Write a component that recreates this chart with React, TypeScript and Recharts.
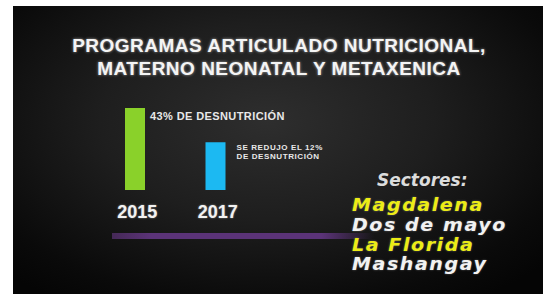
import { BarChart, Bar, XAxis, YAxis, Cell, LabelList } from "recharts";

const years = ["2015", "2017"];
const desnutricion = [43, 25];
const barNotes = [["43% DE DESNUTRICIÓN"], ["SE REDUJO EL 12%", "DE DESNUTRICIÓN"]];
const titleLines = ["PROGRAMAS ARTICULADO NUTRICIONAL,", "MATERNO NEONATAL Y METAXENICA"];
const sectoresTitle = "Sectores:";
const sectores = ["Magdalena", "Dos de mayo", "La Florida", "Mashangay"];

const barColors = ["#8ad12a", "#1cb9f2"];

const data = years.map((year, i) => ({ year, value: desnutricion[i], note: barNotes[i] }));

const noteStyle = [
  { dx: 5, size: 11, spacing: 0.4, first: 12, step: 0 },
  { dx: 11, size: 8, spacing: 0.6, first: 8, step: 9 }
];

const BarNote = (props: any) => {
  const { x, y, width, index } = props;
  const s = noteStyle[index];
  const lines: string[] = data[index].note;
  return (
    <text
      x={x + width + s.dx}
      y={y + s.first}
      fill="#e8e8e8"
      fontSize={s.size}
      fontWeight="bold"
      fontFamily="'Liberation Sans', Arial, sans-serif"
      letterSpacing={s.spacing}
    >
      {lines.map((line, i) => (
        <tspan key={i} x={x + width + s.dx} dy={i === 0 ? 0 : s.step}>
          {line}
        </tspan>
      ))}
    </text>
  );
};

const YearTick = (props: any) => {
  const { x, y, payload } = props;
  return (
    <text
      x={x + 2}
      y={y}
      dy={20}
      textAnchor="middle"
      fill="#f2f2f2"
      fontSize={18}
      fontWeight="bold"
      fontFamily="'Liberation Sans', Arial, sans-serif"
      style={{ textShadow: "0 0 2px rgba(255,255,255,0.5)" }}
    >
      {payload.value}
    </text>
  );
};

export default function App() {
  return (
    <div style={{ position: "absolute", left: 0, top: 0, width: 543, height: 294, background: "#fff", overflow: "hidden" }}>
      <div
        style={{
          position: "absolute",
          left: 13,
          top: 6,
          width: 530,
          height: 288,
          background: "radial-gradient(ellipse 70% 75% at 48% 40%, #2e2e2e 0%, #1e1e1e 45%, #0a0a0a 85%, #050505 100%)"
        }}
      />
      <div
        style={{
          position: "absolute",
          left: 112,
          top: 233,
          width: 262,
          height: 6,
          background: "linear-gradient(90deg, rgba(90,50,115,0.7) 0%, #5b3378 15%, #5b3378 80%, rgba(90,50,115,0) 100%)"
        }}
      />
      <div
        style={{
          position: "absolute",
          left: 0,
          top: 34,
          width: 558,
          textAlign: "center",
          color: "#f4f4f4",
          fontFamily: "'Liberation Sans', Arial, sans-serif",
          fontWeight: "bold",
          fontSize: 19,
          lineHeight: "23px",
          letterSpacing: 0.5,
          textShadow: "0 0 3px rgba(255,255,255,0.6)"
        }}
      >
        {titleLines.map((t) => (
          <div key={t}>{t}</div>
        ))}
      </div>
      <div style={{ position: "absolute", left: 0, top: 0 }}>
        <BarChart width={543} height={294} data={data} margin={{ top: 108, left: 95, right: 287, bottom: 74 }}>
          <XAxis dataKey="year" height={30} axisLine={false} tickLine={false} tick={<YearTick />} />
          <YAxis hide domain={[0, 43]} />
          <Bar dataKey="value" barSize={20} isAnimationActive={false}>
            {data.map((d, i) => (
              <Cell key={d.year} fill={barColors[i]} />
            ))}
            <LabelList dataKey="value" content={<BarNote />} />
          </Bar>
        </BarChart>
      </div>
      <div
        style={{
          position: "absolute",
          left: 377,
          top: 170,
          fontFamily: "'DejaVu Sans', sans-serif",
          fontWeight: "bold",
          fontStyle: "italic",
          fontSize: 17,
          lineHeight: "20px",
          color: "#dcdcdc",
          whiteSpace: "nowrap"
        }}
      >
        {sectoresTitle}
      </div>
      <div
        style={{
          position: "absolute",
          left: 352,
          top: 196,
          fontFamily: "'DejaVu Sans', sans-serif",
          fontWeight: "bold",
          fontStyle: "italic",
          fontSize: 17,
          lineHeight: "19.8px",
          letterSpacing: 1.4,
          whiteSpace: "nowrap",
          transform: "scaleX(1.12)",
          transformOrigin: "left top",
          textShadow: "0 0 2px rgba(255,255,255,0.35)"
        }}
      >
        {sectores.map((s, i) => (
          <div key={s} style={{ color: i % 2 === 0 ? "#ecec16" : "#f2f2f2" }}>
            {s}
          </div>
        ))}
      </div>
    </div>
  );
}
